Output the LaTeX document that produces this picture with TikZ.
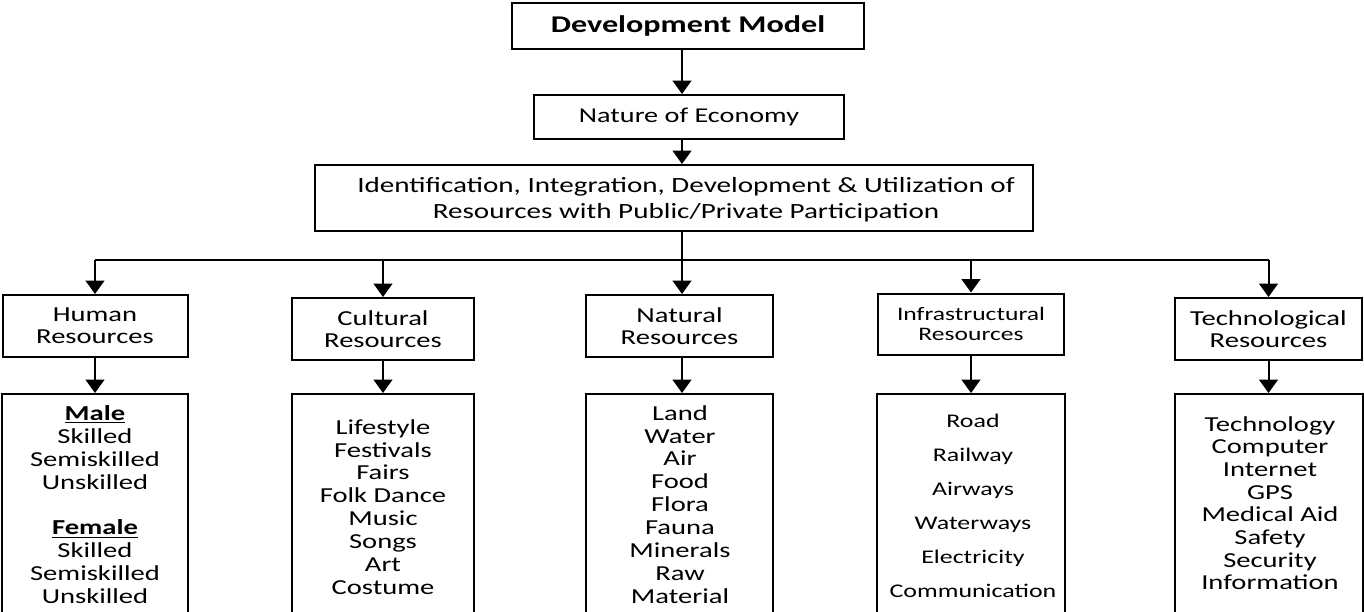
\documentclass[tikz,border=0pt]{standalone}
\usepackage{fontspec}
\setmainfont{Carlito}[FakeStretch=1.34]
\usetikzlibrary{arrows.meta}
\begin{document}
\begin{tikzpicture}[x=0.75pt,y=-0.75pt,
  box/.style={draw,line width=1.5pt,inner sep=0pt,align=center},
  hdr/.style={box,font=\fontsize{16}{16.5}\selectfont},
  lowbox/.style={draw,line width=1.5pt,inner sep=0pt,anchor=north,minimum height=195pt},
  list/.style={inner sep=0pt,align=center,anchor=north,font=\fontsize{16}{17.2}\selectfont},
  arr/.style={line width=1.5pt,-{Triangle[width=14pt,length=10pt]}},
  ln/.style={line width=1.5pt}]
\useasboundingbox (0,0) rectangle (1364,611);
\clip (0,0) rectangle (1364,611);
\coordinate (trunk) at (682,0);
\coordinate (bus) at (0,260);

\node[box,minimum width=264pt,minimum height=34.5pt,font=\fontsize{18}{21}\selectfont\bfseries] (dm) at (688,26) {Development Model};
\node[box,minimum width=232.5pt,minimum height=33pt,font=\fontsize{15.8}{18}\selectfont] (ne) at (689,117) {Nature of Economy};
\node[box,minimum width=538.5pt,minimum height=49.5pt] (id) at (674,198) {};
\node[inner sep=0pt,align=center,font=\fontsize{16.3}{19.5}\selectfont] (idt) at (686,200) {Identification, Integration, Development \& Utilization of\\Resources with Public/Private Participation};

\node[hdr,minimum width=138.75pt,minimum height=46.5pt] (hr) at (95,326) {Human\\Resources};
\node[hdr,minimum width=136.5pt,minimum height=46.5pt] (cr) at (383,329) {Cultural\\Resources};
\node[hdr,minimum width=140.25pt,minimum height=46.5pt] (nr) at (679.5,326) {Natural\\Resources};
\node[hdr,minimum width=139.5pt,minimum height=45.75pt,font=\fontsize{14.3}{15}\selectfont] (ir) at (971,324) {Infrastructural\\Resources};
\node[hdr,minimum width=140.25pt,minimum height=46.5pt] (tr) at (1268.5,329) {Technological\\Resources};

\node[lowbox,minimum width=139.5pt] (hl) at (95,393) {};
\node[lowbox,minimum width=136.5pt] (cl) at (383,393) {};
\node[lowbox,minimum width=140.25pt] (nl) at (679.5,393) {};
\node[lowbox,minimum width=141pt] (il) at (971,393) {};
\node[lowbox,minimum width=141pt] (tl) at (1268.5,393) {};

\node[list] (hlt) at (95,405) {\underline{\textbf{Male}}\\Skilled\\Semiskilled\\Unskilled\\[17.2pt]\underline{\textbf{Female}}\\Skilled\\Semiskilled\\Unskilled};
\node[list] (clt) at (383,419) {Lifestyle\\Festivals\\Fairs\\Folk Dance\\Music\\Songs\\Art\\Costume};
\node[list] (nlt) at (680,405) {Land\\Water\\Air\\Food\\Flora\\Fauna\\Minerals\\Raw\\Material};
\node[list,font=\fontsize{14.5}{25.5}\selectfont] (ilt) at (973,414) {Road\\Railway\\Airways\\Waterways\\Electricity\\Communication};
\node[list,font=\fontsize{16}{17}\selectfont] (tlt) at (1270,416) {Technology\\Computer\\Internet\\GPS\\Medical Aid\\Safety\\Security\\Information};

\draw[arr] (dm.south -| trunk) -- (ne.north -| trunk);
\draw[arr] (ne.south -| trunk) -- (id.north -| trunk);
\draw[arr] (id.south -| trunk) -- (nr.north -| trunk);
\draw[ln] (bus -| hr.north) -- (bus -| tr.north);
\draw[arr] (bus -| hr.north) -- (hr.north);
\draw[arr] (bus -| cr.north) -- (cr.north);
\draw[arr] (bus -| ir.north) -- (ir.north);
\draw[arr] (bus -| tr.north) -- (tr.north);

\draw[arr] (hr.south) -- (hl.north);
\draw[arr] (cr.south) -- (cl.north);
\draw[arr] (nr.south -| trunk) -- (nl.north -| trunk);
\draw[arr] (ir.south) -- (il.north);
\draw[arr] (tr.south) -- (tl.north);
\end{tikzpicture}
\end{document}
